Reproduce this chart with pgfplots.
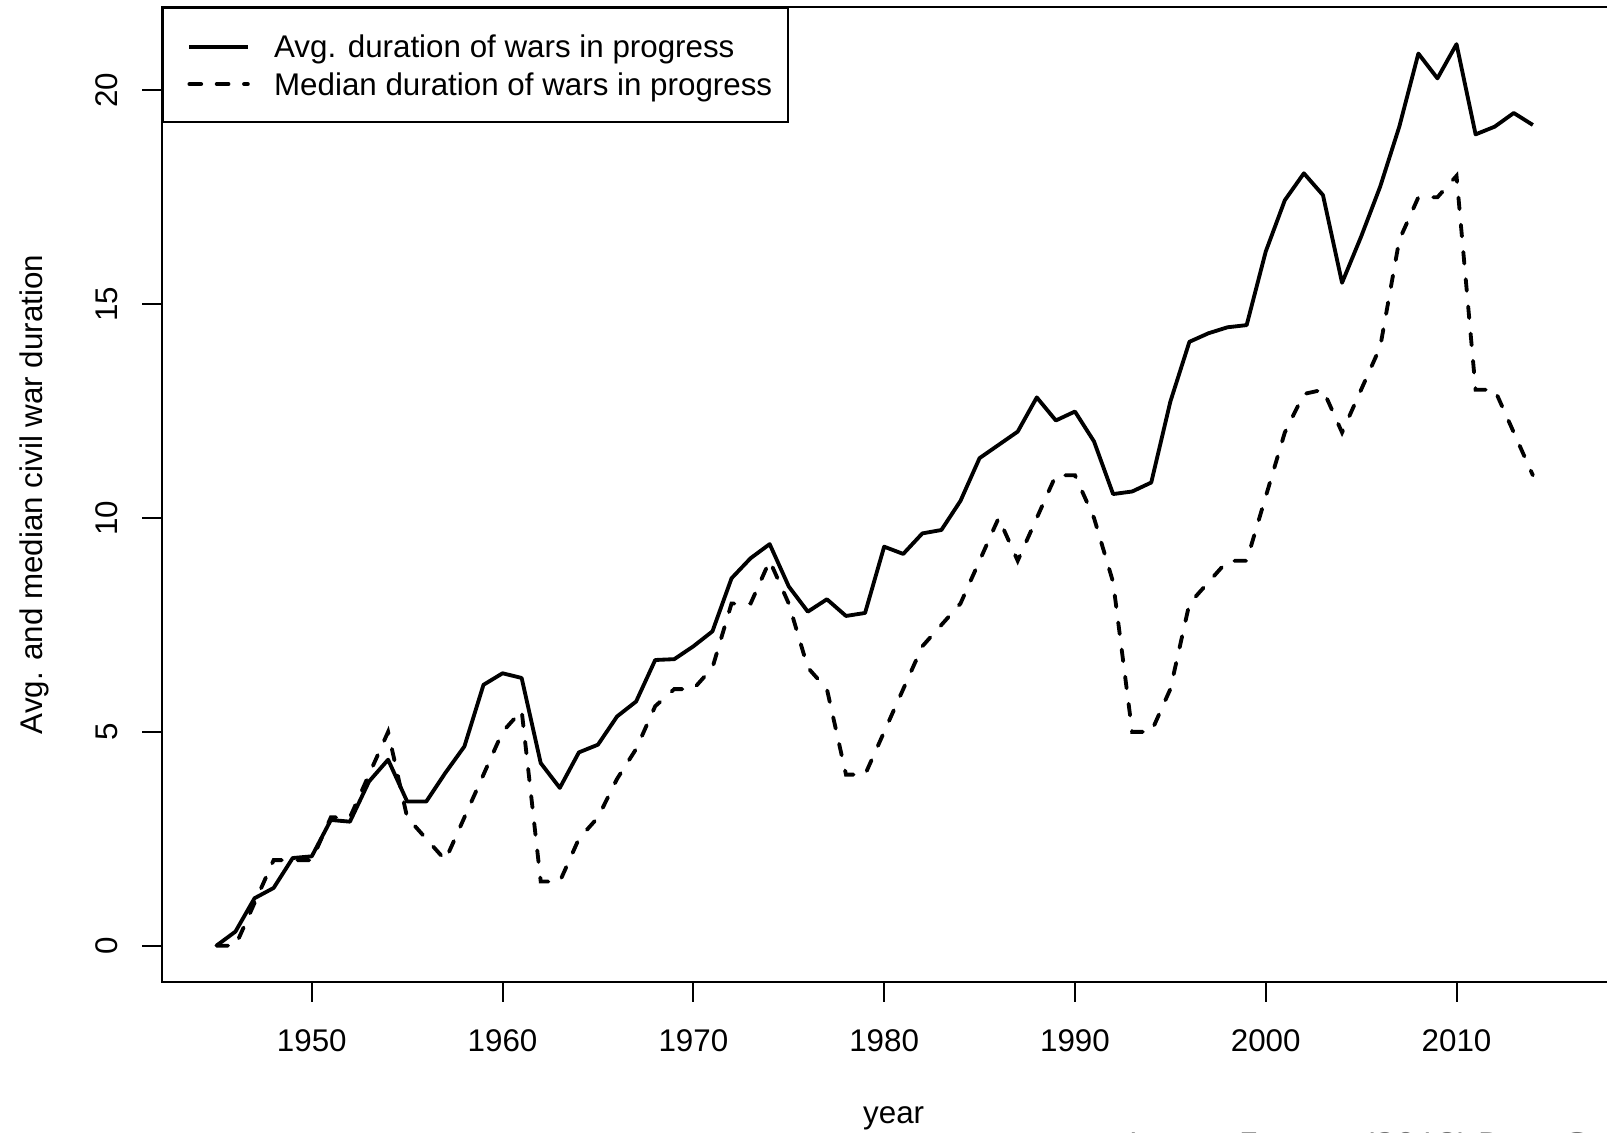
\documentclass[border=0pt]{standalone}
\usepackage{pgfplots}
\usepackage{pgfplotstable}
\pgfplotsset{compat=1.18}
\usepackage{fontspec}
\setmainfont{Liberation Sans}
\newfontfamily\footfont{Open Sans}

\pgfplotstableread{
year avg med
1945 0.00 0
1946 0.33 0
1947 1.11 1
1948 1.35 2
1949 2.05 2
1950 2.09 2
1951 2.94 3
1952 2.90 3
1953 3.84 4
1954 4.35 5
1955 3.37 3
1956 3.37 2.5
1957 4.04 2
1958 4.66 3
1959 6.10 4
1960 6.37 5
1961 6.26 5.5
1962 4.27 1.5
1963 3.69 1.5
1964 4.52 2.5
1965 4.70 3
1966 5.36 3.9
1967 5.71 4.6
1968 6.68 5.6
1969 6.70 6
1970 7.00 6
1971 7.35 6.5
1972 8.59 8
1973 9.06 8
1974 9.39 9
1975 8.40 8
1976 7.81 6.5
1977 8.10 6
1978 7.71 4
1979 7.78 4
1980 9.33 5
1981 9.16 6
1982 9.64 7
1983 9.72 7.5
1984 10.40 8
1985 11.40 9
1986 11.71 10
1987 12.02 9
1988 12.82 10
1989 12.28 11
1990 12.49 11
1991 11.79 10
1992 10.56 8.5
1993 10.62 5
1994 10.83 5
1995 12.72 6
1996 14.12 8
1997 14.32 8.5
1998 14.46 9
1999 14.51 9
2000 16.23 10.5
2001 17.43 12
2002 18.06 12.9
2003 17.55 13
2004 15.50 12
2005 16.58 13
2006 17.75 14
2007 19.15 16.5
2008 20.86 17.5
2009 20.28 17.5
2010 21.08 18
2011 18.97 13
2012 19.15 13
2013 19.47 12
2014 19.19 11
}\data

\begin{document}
\begin{tikzpicture}
\begin{axis}[
  name=ax, at={(0,0)}, anchor=south west,
  scale only axis, width=438.9pt, height=292.38pt,
  xmin=1942.16, xmax=2018.84, ymin=-0.844, ymax=21.944,
  axis line style={line width=0.6pt, black},
  xtick={1950,1960,1970,1980,1990,2000,2010},
  xticklabels={1950,1960,1970,1980,1990,2000,2010},
  ytick={0,5,10,15,20},
  yticklabels={0,5,10,15,20},
  xtick pos=bottom, ytick pos=left, tick align=outside,
  major tick length=6pt, tick style={line width=0.6pt, black},
  ticklabel style={font=\fontsize{9.4}{11}\selectfont, inner sep=0pt},
  xticklabel style={anchor=north, yshift=-8pt},
  yticklabel style={rotate=90, anchor=south, yshift=7.2pt},
  xlabel={year},
  ylabel={Avg. and median civil war duration},
  label style={font=\fontsize{9.4}{11}\selectfont, inner sep=0pt},
  xlabel style={at={(axis description cs:0.5,0)}, anchor=base, yshift=-42.4pt},
  ylabel style={at={(axis description cs:0,0.5)}, anchor=base, yshift=35.8pt},
  legend style={at={(0,1)}, anchor=north west, draw=black, line width=0.6pt,
    fill=white, inner xsep=4.7pt, inner ysep=6.95pt,
    font=\fontsize{9.4}{11}\selectfont,
    nodes={inner sep=0pt, text height=7.9pt, text depth=1.05pt},
    row sep=2.25pt,
    /tikz/every odd column/.append style={column sep=7.3pt}},
  legend cell align=left,
  legend image code/.code={\path (0pt,0pt); \draw[#1, line width=1.2pt] (2.6pt,-0.15pt) -- (20.1pt,-0.15pt);},
]
\addplot[black, line width=1.15pt, line join=round] table[x=year, y=avg] {\data};
\addlegendentry{Avg. duration of wars in progress}
\addplot[black, line width=1.15pt, line cap=round, dash pattern=on 3.5pt off 4.7pt] table[x=year, y=med] {\data};
\addlegendentry{Median duration of wars in progress}
\end{axis}
\pgfresetboundingbox
\begin{scope}[x=0.3pt, y=-0.3pt, shift={(-162.2,-981.8)}]
\useasboundingbox (0,0) rectangle (1607,1133);
\node[anchor=base west, inner sep=0pt, text=black!55, font=\footfont\fontsize{10.8}{13}\selectfont] at (1128,1158) {James Fearon (2018) Post-Cold War Civil Wars};
\end{scope}
\end{tikzpicture}
\end{document}
